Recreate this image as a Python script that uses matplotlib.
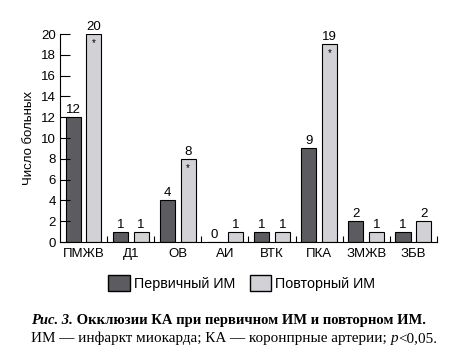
import numpy as np
import matplotlib.pyplot as plt
from matplotlib.patches import Patch

plt.rcParams['font.family'] = ['Liberation Sans', 'DejaVu Sans']

# Данные
categories = ['ПМЖВ', 'Д1', 'ОВ', 'АИ', 'ВТК', 'ПКА', 'ЗМЖВ', 'ЗБВ']
primary = [12, 1, 4, 0, 1, 9, 2, 1]
repeat = [20, 1, 8, 1, 1, 19, 1, 2]
starred = [True, False, True, False, False, True, False, False]

dark = '#5b5b60'
light = '#d2d2d6'

fig = plt.figure(figsize=(4.58, 3.58), dpi=100)
ax = fig.add_axes([0.131, 0.324, 0.823, 0.581])

x = np.arange(len(categories))
w = 0.32
ax.bar(x - 0.22, primary, w, color=dark, edgecolor='black', linewidth=0.8)
ax.bar(x + 0.22, repeat, w, color=light, edgecolor='black', linewidth=0.8)

for i in range(len(categories)):
    ax.text(x[i] - 0.22, primary[i] + 0.1, str(primary[i]), ha='center', va='bottom', fontsize=9.5)
    ax.text(x[i] + 0.22, repeat[i] + 0.1, str(repeat[i]), ha='center', va='bottom', fontsize=9.5)
    if starred[i]:
        ax.text(x[i] + 0.22, repeat[i] - 0.4, '*', ha='center', va='top', fontsize=7)

ax.set_xlim(-0.5, len(categories) - 0.5)
ax.set_ylim(0, 20)
ax.set_yticks(range(0, 21, 2))
ax.set_xticks(x)
ax.set_xticklabels(categories, fontsize=9.5)
ax.set_xticks(np.arange(0.5, len(categories)), minor=True)
ax.tick_params(axis='x', which='major', length=0, pad=4)
ax.tick_params(axis='x', which='minor', direction='in', length=4, width=0.8)
ax.tick_params(axis='y', direction='in', length=7, width=0.8, labelsize=9.5, pad=3)
ax.spines['top'].set_visible(False)
ax.spines['right'].set_visible(False)
ax.set_ylabel('Число больных', fontsize=9.5)

handles = [Patch(facecolor=dark, edgecolor='black', label='Первичный ИМ'),
           Patch(facecolor=light, edgecolor='black', label='Повторный ИМ')]
fig.legend(handles=handles, loc='center', bbox_to_anchor=(0.528, 0.209), ncol=2,
           frameon=False, fontsize=10.3, handlelength=1.5, handleheight=1.4,
           handletextpad=0.3, columnspacing=1.0)

# Подпись к рисунку
serif = 'Liberation Serif'
t1 = fig.text(0.068, 0.105, 'Рис. 3.', family=serif, fontsize=10.5,
              fontweight='bold', style='italic', va='center')
ax.annotate(' Окклюзии КА при первичном ИМ и повторном ИМ.', xy=(1, 0.5), xycoords=t1,
            va='center', family=serif, fontsize=10.5, fontweight='bold',
            annotation_clip=False)
t2 = fig.text(0.068, 0.055, 'ИМ — инфаркт миокарда; КА — коронпрные артерии; ',
              family=serif, fontsize=10.9, va='center')
t3 = ax.annotate('p', xy=(1, 0), xycoords=t2, va='bottom', family=serif, fontsize=10.9,
                 style='italic', annotation_clip=False)
ax.annotate('<0,05.', xy=(1, 0), xycoords=t3, va='bottom', family=serif, fontsize=10.9,
            annotation_clip=False)

fig.savefig('out.png', dpi=100)
